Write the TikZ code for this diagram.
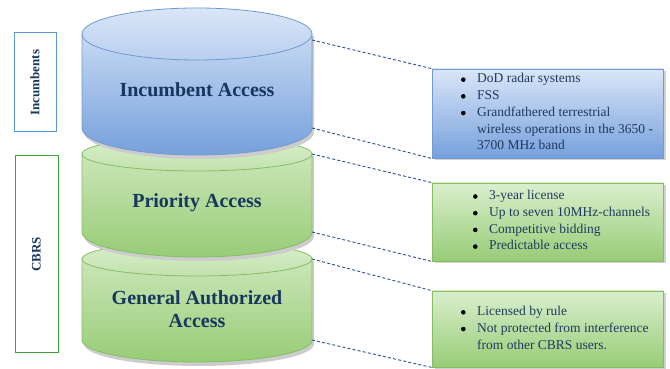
\documentclass[tikz,border=0pt]{standalone}
\usepackage{fontspec}
\setmainfont{Liberation Serif}
\usetikzlibrary{shadows}
\definecolor{navy}{HTML}{17375E}
\definecolor{txt}{HTML}{1F3A5F}
\definecolor{bluebd}{HTML}{6F9AD2}
\definecolor{bbodytop}{HTML}{C6D9F2}
\definecolor{bbodybot}{HTML}{76A0DC}
\definecolor{bcaptop}{HTML}{DAE6F8}
\definecolor{bcapbot}{HTML}{B9CFEF}
\definecolor{greenbd}{HTML}{86BD63}
\definecolor{gbodytop}{HTML}{CBE6B8}
\definecolor{gbodybot}{HTML}{97CC76}
\definecolor{gcaptop}{HTML}{DAEFCD}
\definecolor{gcapbot}{HTML}{C2E2AC}
\definecolor{dashc}{HTML}{2A4F8C}
\definecolor{lblue}{HTML}{5B9BD5}
\definecolor{lgreen}{HTML}{3AA335}
\newcommand\bitem{\makebox[17pt][l]{\hspace{0.8pt}\raisebox{1.0pt}{\tikz\fill[black] (0,0) circle (2.3pt);}}}
\newcommand\bskip{\makebox[17pt]{}}
\tikzset{
  cylbody/.style={line width=0.8pt},
  conn/.style={dashc, line width=0.9pt, dash pattern=on 3pt off 2.2pt},
  infobox/.style={rectangle, minimum width=231pt, inner sep=0pt, line width=0.8pt,
    drop shadow={shadow xshift=2.5pt, shadow yshift=-2.5pt, fill=gray!60, opacity=0.6}},
  bluebox/.style={infobox, draw=bluebd, top color=bcaptop, bottom color=bbodybot},
  greenbox/.style={infobox, draw=greenbd, top color=gcaptop, bottom color=gbodybot},
  listtext/.style={anchor=west, inner sep=0pt, text=txt, font=\fontsize{13.5}{16.7}\selectfont},
  cyltext/.style={text=navy, font=\bfseries\fontsize{20}{22.5}\selectfont, align=center},
  sidebox/.style={rectangle, rotate=90, fill=white, line width=1pt, inner sep=0pt,
    text=navy, font=\bfseries\fontsize{13}{15}\selectfont},
}
\begin{document}
\begin{tikzpicture}[x=1pt,y=1pt]
\useasboundingbox (0,0) rectangle (670,369);

% ---- General Authorized Access cylinder
\fill[gray!40] (84,108) -- (84,25) arc[start angle=180,end angle=360,x radius=115,y radius=22] -- (314,108) -- cycle;
\shade[cylbody, draw=greenbd, top color=gbodytop, bottom color=gbodybot]
  (82,110) -- (82,29) arc[start angle=180,end angle=360,x radius=115,y radius=22] -- (312,110) -- cycle;
\shade[cylbody, draw=greenbd, top color=gcaptop, bottom color=gcapbot]
  (197,110) ellipse [x radius=115, y radius=17];
\node[cyltext] (gaa) at (197,60) {General Authorized\\Access};

% ---- Priority Access cylinder
\fill[gray!40] (84,213) -- (84,133) arc[start angle=180,end angle=360,x radius=115,y radius=25] -- (314,213) -- cycle;
\shade[cylbody, draw=greenbd, top color=gbodytop, bottom color=gbodybot]
  (82,215) -- (82,137) arc[start angle=180,end angle=360,x radius=115,y radius=25] -- (312,215) -- cycle;
\shade[cylbody, draw=greenbd, top color=gcaptop, bottom color=gcapbot]
  (197,215) ellipse [x radius=115, y radius=17];
\node[cyltext] (pa) at (197,166) {Priority Access};

% ---- Incumbent Access cylinder
\fill[gray!40] (84,333) -- (84,237) arc[start angle=180,end angle=360,x radius=115,y radius=27] -- (314,333) -- cycle;
\shade[cylbody, draw=bluebd, top color=bbodytop, bottom color=bbodybot]
  (82,335) -- (82,241) arc[start angle=180,end angle=360,x radius=115,y radius=27] -- (312,335) -- cycle;
\shade[cylbody, draw=bluebd, top color=bcaptop, bottom color=bcapbot]
  (197,335) ellipse [x radius=115, y radius=26];
\node[cyltext] (ia) at (197,279) {Incumbent Access};

% connection points on the cylinders
\coordinate (c1) at (312,329);
\coordinate (c2) at (312,241);
\coordinate (c3) at (312,215);
\coordinate (c4) at (312,137);
\coordinate (c5) at (312,110);
\coordinate (c6) at (312,29);

% ---- side labels
\node[sidebox, draw=lblue, minimum width=99pt, minimum height=42pt] (inc) at (35,286.5) {Incumbents};
\node[sidebox, draw=lgreen, minimum width=197pt, minimum height=43pt] (cbrs) at (36.5,114.5) {CBRS};

% ---- info boxes
\node[bluebox, minimum height=89pt] (b1) at (547.5,255.5) {};
\node[greenbox, minimum height=78pt] (b2) at (547.5,147) {};
\node[greenbox, minimum height=76pt] (b3) at (547.5,40) {};

\node[listtext] (t1) at (460,256) {\begin{tabular}{@{}l@{}}
\bitem DoD radar systems\\
\bitem FSS\\
\bitem Grandfathered terrestrial\\
\bskip wireless operations in the 3650 -\\
\bskip 3700 MHz band
\end{tabular}};
\node[listtext] (t2) at (472,147.5) {\begin{tabular}{@{}l@{}}
\bitem 3-year license\\
\bitem Up to seven 10MHz-channels\\
\bitem Competitive bidding\\
\bitem Predictable access
\end{tabular}};
\node[listtext] (t3) at (460,40) {\begin{tabular}{@{}l@{}}
\bitem Licensed by rule\\
\bitem Not protected from interference\\
\bskip from other CBRS users.
\end{tabular}};

% ---- dashed connectors
\draw[conn] (c1) -- (b1.north west);
\draw[conn] (c2) -- (b1.south west);
\draw[conn] (c3) -- (b2.north west);
\draw[conn] (c4) -- (b2.south west);
\draw[conn] (c5) -- (b3.north west);
\draw[conn] (c6) -- (b3.south west);
\end{tikzpicture}
\end{document}
